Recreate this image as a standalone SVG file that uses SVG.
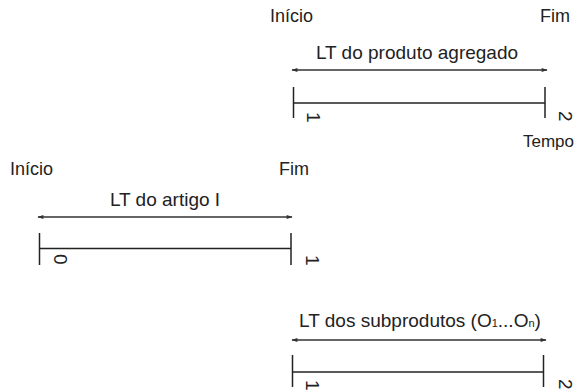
<svg xmlns="http://www.w3.org/2000/svg" width="575" height="392" viewBox="0 0 575 392">
  <style>
    text { font-family: "Liberation Sans", Arial, sans-serif; font-size: 18px; fill: #222; }
    .lbl { font-size: 19px; text-anchor: middle; }
    .dig { font-size: 19px; }
    .sub { font-size: 11px; }
    .tick { stroke: #222; stroke-width: 1.5; fill: none; }
    .arr { stroke: #333; stroke-width: 1.3; fill: none; marker-start: url(#ah); marker-end: url(#ah); }
  </style>
  <defs>
    <marker id="ah" viewBox="0 0 10 10" refX="9" refY="5" markerWidth="8" markerHeight="6" markerUnits="userSpaceOnUse" orient="auto-start-reverse">
      <path d="M0,1.5 L10,5 L0,8.5 Z" fill="#333"/>
    </marker>
  </defs>
  <rect width="575" height="392" fill="#fff"/>

  <g id="connectors">
    <line class="arr" x1="292" y1="70" x2="547" y2="70"/>
    <line class="arr" x1="38" y1="217" x2="292" y2="217"/>
    <line class="arr" x1="292" y1="340" x2="546" y2="340"/>
  </g>

  <g id="produto-agregado">
    <text x="270" y="22">Início</text>
    <text x="540" y="22">Fim</text>
    <text class="lbl" x="417" y="59">LT do produto agregado</text>
    <line class="tick" x1="293.5" y1="87" x2="293.5" y2="118"/>
    <line class="tick" x1="545" y1="87" x2="545" y2="118"/>
    <line class="tick" x1="293.5" y1="103" x2="545" y2="103"/>
    <text class="dig" transform="translate(307,112) rotate(90)">1</text>
    <text class="dig" transform="translate(559,111) rotate(90)">2</text>
    <text x="574" y="147" style="font-size:17px;text-anchor:end">Tempo</text>
  </g>

  <g id="artigo-i">
    <text x="10" y="175">Início</text>
    <text x="279" y="175">Fim</text>
    <text class="lbl" x="165" y="206">LT do artigo I</text>
    <line class="tick" x1="39.5" y1="233" x2="39.5" y2="265"/>
    <line class="tick" x1="291" y1="233" x2="291" y2="265"/>
    <line class="tick" x1="39.5" y1="248.5" x2="291" y2="248.5"/>
    <text class="dig" transform="translate(53.5,254) rotate(90)">0</text>
    <text class="dig" transform="translate(306,255) rotate(90)">1</text>
  </g>

  <g id="subprodutos">
    <text class="lbl" x="420" y="327">LT dos subprodutos (O<tspan class="sub">1</tspan>...O<tspan class="sub">n</tspan>)</text>
    <line class="tick" x1="292.5" y1="355" x2="292.5" y2="387"/>
    <line class="tick" x1="543.5" y1="355" x2="543.5" y2="387"/>
    <line class="tick" x1="292.5" y1="372" x2="543.5" y2="372"/>
    <text class="dig" transform="translate(306,380) rotate(90)">1</text>
    <text class="dig" transform="translate(559,379) rotate(90)">2</text>
  </g>
</svg>
